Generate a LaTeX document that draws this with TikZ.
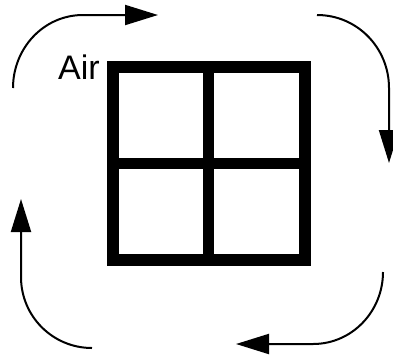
\documentclass[tikz,border=0pt]{standalone}
\usepackage{fontspec}
\setmainfont{Liberation Sans}
\usetikzlibrary{arrows.meta}

\begin{document}
\begin{tikzpicture}[
    x=1pt, y=-1pt,
    grid/.style={line width=11.5pt, line join=miter, black},
    flow/.style={-{Triangle[length=33pt, width=20pt]}, line width=2pt, black},
    label/.style={font=\fontsize{34}{38}\selectfont, inner sep=0pt},
]
\useasboundingbox (0,0) rectangle (393,354);

% window grid
\draw[grid] (113,67) rectangle (305,260);
\draw[grid] (208.5,67) -- (208.5,260);
\draw[grid] (113,163.5) -- (305,163.5);

\node[label, anchor=base east] (air) at (100,79) {Air};

% arrow points
\coordinate (topS) at (13,88);
\coordinate (topM) at (83,15);
\coordinate (topE) at (158,15);
\coordinate (rightS) at (317,15);
\coordinate (rightM) at (389,88);
\coordinate (rightE) at (389,163);
\coordinate (botS) at (383,272);
\coordinate (botM) at (313,344);
\coordinate (botE) at (236,344);
\coordinate (leftS) at (92,348);
\coordinate (leftM) at (21,277);
\coordinate (leftE) at (21,199);

% Arrows
\draw[flow] (topS) to[out=90, in=180] (topM) -- (topE);
\draw[flow] (rightS) to[out=0, in=90] (rightM) -- (rightE);
\draw[flow] (botS) to[out=-90, in=0] (botM) -- (botE);
\draw[flow] (leftS) to[out=180, in=-90] (leftM) -- (leftE);

\end{tikzpicture}
\end{document}
